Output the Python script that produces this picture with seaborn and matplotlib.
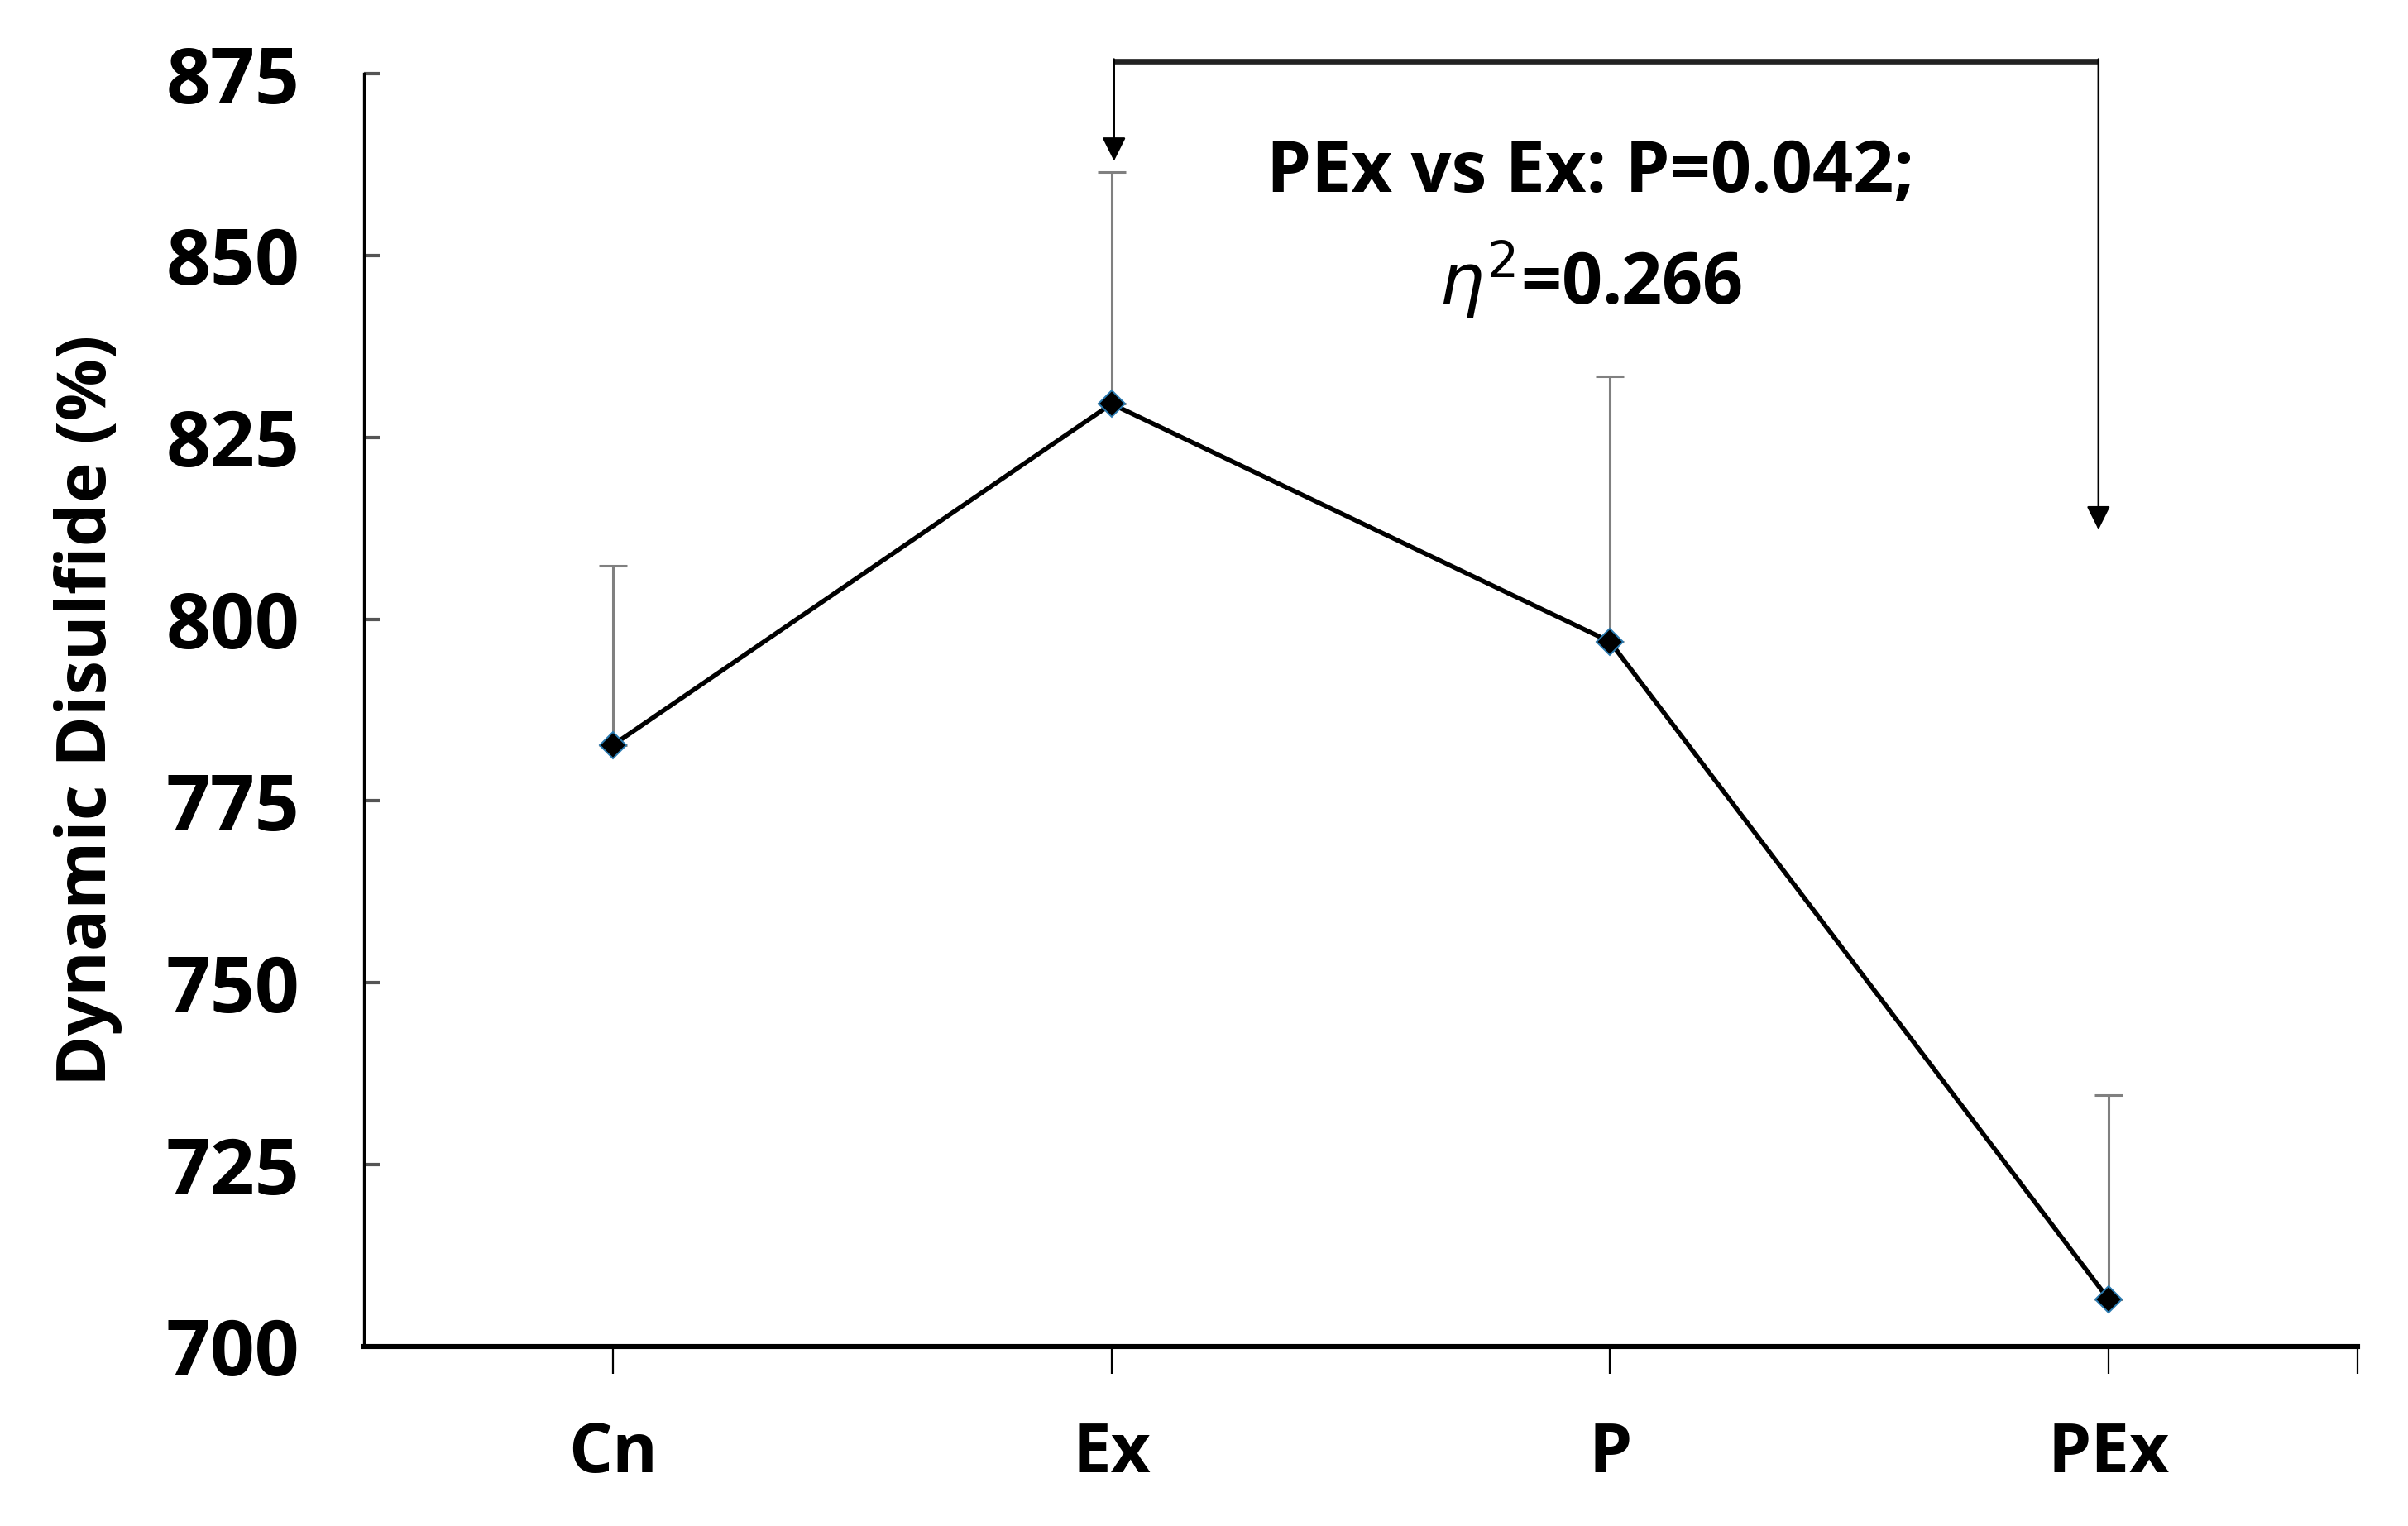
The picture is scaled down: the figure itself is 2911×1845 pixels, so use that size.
import numpy as np
import pandas as pd
import seaborn as sns
from matplotlib import pyplot as plt

sns.set_style("ticks")
plt.rcParams["font.family"] = ["Open Sans", "DejaVu Sans"]
plt.rcParams["mathtext.fontset"] = "dejavusans"
for key in ["text.color", "axes.labelcolor", "xtick.color", "ytick.color", "axes.edgecolor"]:
    plt.rcParams[key] = "black"

groups = ["Cn", "Ex", "P", "PEx"]
means = [782.7, 829.6, 796.9, 706.5]
errors = [24.7, 31.9, 36.5, 28.1]
note_line1 = "PEx vs Ex: P=0.042;"
note_line2 = r"$\eta^2$=0.266"

df = pd.DataFrame({"group": groups, "value": means, "err": errors})

fig = plt.figure(figsize=(14.555, 9.225), dpi=200)
ax = fig.add_axes([0.1511, 0.1177, 0.828, 0.834])

x = np.arange(len(groups))
ax.errorbar(x, df["value"], yerr=[np.zeros(len(x)), df["err"]], fmt="none",
            ecolor="#808080", elinewidth=1.1, capsize=6, capthick=1.1, zorder=2)
sns.lineplot(data=df, x="group", y="value", ax=ax, color="black", linewidth=2.0,
             marker="D", markersize=8, markerfacecolor="black",
             markeredgecolor="#2a7ab0", markeredgewidth=0.7, sort=False, zorder=3)

ax.set_xlim(-0.5, 3.5)
ax.set_ylim(700, 875)
ax.set_yticks(np.arange(700, 876, 25))
ax.set_xticks(list(x) + [3.5])
ax.set_xticklabels(groups + [""])
ax.set_xlabel("")
ax.set_ylabel("Dynamic Disulfide (%)", fontsize=30, fontweight="bold")
ax.yaxis.set_label_coords(-0.121, 0.5)

for lab in ax.get_xticklabels() + ax.get_yticklabels():
    lab.set_fontweight("bold")
ax.tick_params(axis="y", direction="in", length=7, width=1.5, labelsize=34, pad=28,
               color="#555555")
ax.tick_params(axis="x", direction="out", length=12, width=0.8, labelsize=30, pad=20)

sns.despine(ax=ax, top=True, right=True)
ax.spines["left"].set_linewidth(1.2)
ax.spines["bottom"].set_linewidth(2.2)

# comparison bracket between Ex and PEx
top = 876.7
ax.plot([1.005, 2.98], [top, top], color="#222222", linewidth=2.4, clip_on=False,
        solid_capstyle="butt")
ax.annotate("", xy=(1.005, 863), xytext=(1.005, top + 0.3),
            arrowprops=dict(arrowstyle="-|>", color="black", lw=0.9,
                            mutation_scale=22, shrinkA=0, shrinkB=0),
            annotation_clip=False)
ax.annotate("", xy=(2.98, 812.3), xytext=(2.98, top + 0.3),
            arrowprops=dict(arrowstyle="-|>", color="black", lw=0.9,
                            mutation_scale=22, shrinkA=0, shrinkB=0),
            annotation_clip=False)
ax.text(1.96, 861.3, note_line1, ha="center", va="center", fontsize=31,
        fontweight="bold")
ax.text(1.96, 846.5, note_line2, ha="center", va="center", fontsize=31,
        fontweight="bold")

fig.savefig("out.png", dpi=200)
